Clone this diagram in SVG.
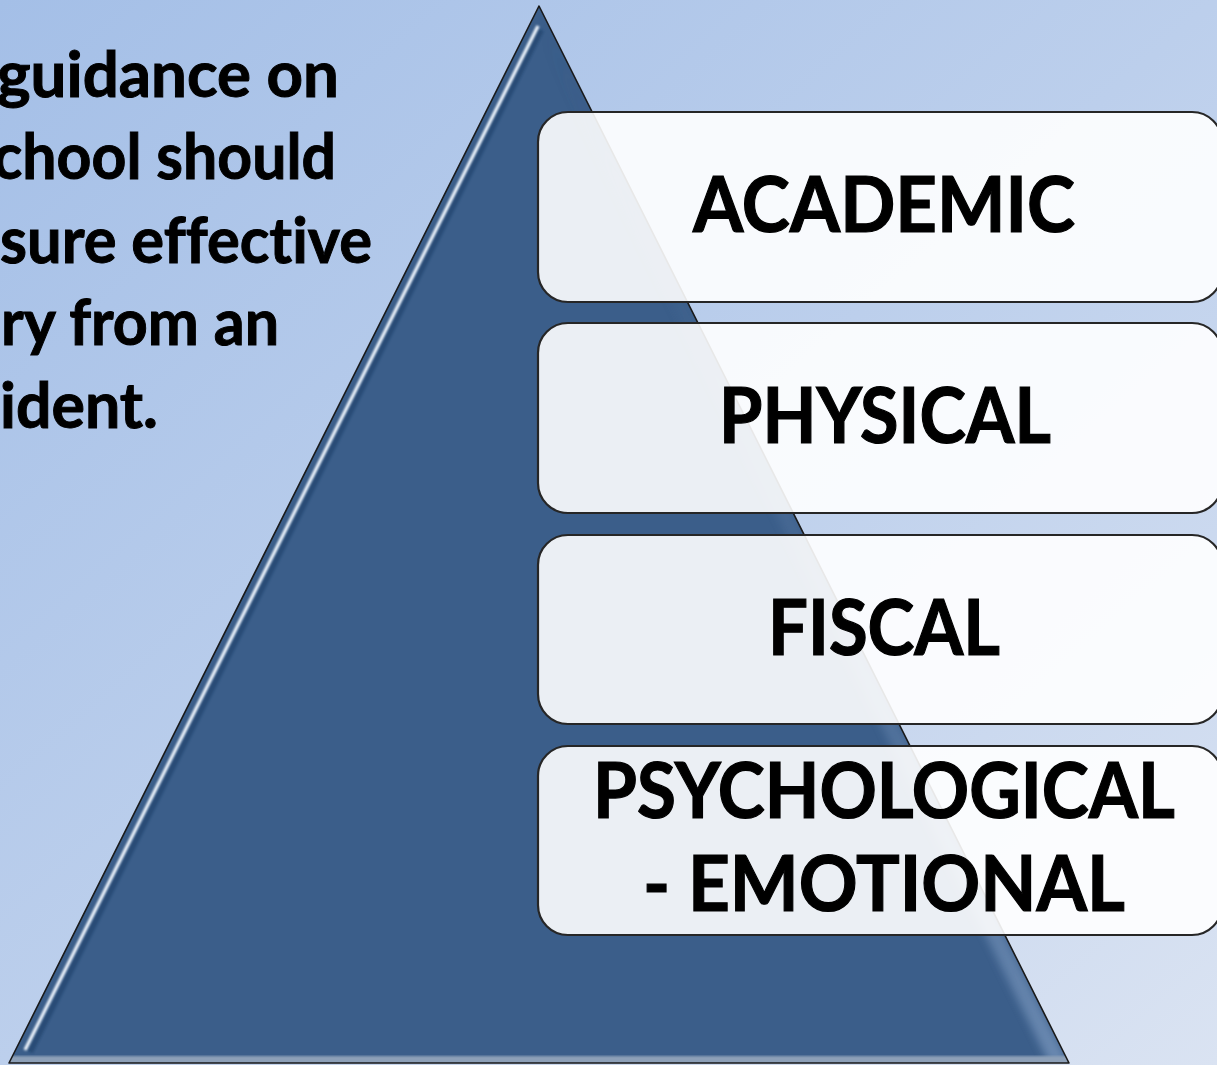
<svg xmlns="http://www.w3.org/2000/svg" width="1217" height="1065" viewBox="0 0 1217 1065">
  <defs>
    <linearGradient id="bg" x1="0" y1="0" x2="1" y2="1">
      <stop offset="0" stop-color="#a4bfe7"/>
      <stop offset="0.5" stop-color="#bccfec"/>
      <stop offset="1" stop-color="#dae3f2"/>
    </linearGradient>
    <linearGradient id="rightShade" x1="0" y1="0" x2="1" y2="0">
      <stop offset="0" stop-color="#3b5e8a" stop-opacity="0"/>
      <stop offset="1" stop-color="#7f9cc2" stop-opacity="0.9"/>
    </linearGradient>
    <clipPath id="triClip">
      <polygon points="539,6 9,1063 1069,1063"/>
    </clipPath>
    <filter id="soft" x="-5%" y="-5%" width="110%" height="110%">
      <feGaussianBlur stdDeviation="1.1"/>
    </filter>
    <filter id="softer" x="-10%" y="-10%" width="120%" height="120%">
      <feGaussianBlur stdDeviation="4"/>
    </filter>
    <style>
      .box { fill: #ffffff; fill-opacity: 0.9; stroke: #262626; stroke-width: 2.2; }
      .label { font-family: Lato, "Liberation Sans", sans-serif; font-weight: 700; font-size: 77px; fill: #000; stroke: #000; stroke-width: 1.2; text-anchor: middle; font-variant-ligatures: none; }
      .side { font-family: Lato, "Liberation Sans", sans-serif; font-weight: 700; font-size: 64px; fill: #000; stroke: #000; stroke-width: 1; font-variant-ligatures: none; }
    </style>
  </defs>

  <!-- backdrop -->
  <rect x="0" y="0" width="1217" height="1065" fill="url(#bg)"/>

  <!-- explanatory text on the left -->
  <g id="intro-text">
    <text class="side" x="-3" y="97" textLength="342" lengthAdjust="spacingAndGlyphs">guidance on</text>
    <text class="side" x="-7" y="179" textLength="343" lengthAdjust="spacingAndGlyphs">chool should</text>
    <text class="side" x="0" y="263" textLength="372" lengthAdjust="spacingAndGlyphs">sure effective</text>
    <text class="side" x="1" y="345" textLength="278" lengthAdjust="spacingAndGlyphs">ry from an</text>
    <text class="side" x="0" y="428" textLength="158" lengthAdjust="spacingAndGlyphs">ident.</text>
  </g>

  <!-- bevelled pyramid -->
  <g id="pyramid">
    <polygon points="539,6 9,1063 1069,1063" fill="#3b5e8a"/>
    <g clip-path="url(#triClip)">
      <!-- soft light band along the right slope -->
      <polygon points="539,6 1069,1063 1049,1063 539,40" fill="url(#rightShade)" filter="url(#softer)" opacity="0.8"/>
      <!-- bevel shadow under the left highlight -->
      <line x1="541" y1="30" x2="30" y2="1052" stroke="#22446e" stroke-width="6" filter="url(#soft)" opacity="0.7"/>
      <!-- bevel highlight along the left slope -->
      <line x1="538" y1="26" x2="25" y2="1050" stroke="#f2f8ff" stroke-width="3.2" filter="url(#soft)"/>
      <!-- lighter base strip -->
      <rect x="0" y="1056" width="1100" height="8" fill="#8da0b8" filter="url(#soft)"/>
    </g>
    <polygon points="539,6 9,1063 1069,1063" fill="none" stroke="#1a1a1a" stroke-width="1.6" stroke-linejoin="round"/>
  </g>

  <!-- tiers -->
  <g id="node-academic">
    <rect class="box" x="538" y="112" width="684" height="190" rx="30" ry="30"/>
    <text class="label" x="884" y="232" textLength="382" lengthAdjust="spacingAndGlyphs">ACADEMIC</text>
  </g>
  <g id="node-physical">
    <rect class="box" x="538" y="323" width="684" height="190" rx="30" ry="30"/>
    <text class="label" x="885" y="443" textLength="332" lengthAdjust="spacingAndGlyphs">PHYSICAL</text>
  </g>
  <g id="node-fiscal">
    <rect class="box" x="538" y="535" width="684" height="189" rx="30" ry="30"/>
    <text class="label" x="884" y="655" textLength="232" lengthAdjust="spacingAndGlyphs">FISCAL</text>
  </g>
  <g id="node-psychological">
    <rect class="box" x="538" y="746" width="684" height="189" rx="30" ry="30"/>
    <text class="label" x="884" y="818" textLength="582" lengthAdjust="spacingAndGlyphs">PSYCHOLOGICAL</text>
    <text class="label" x="884" y="911" textLength="482" lengthAdjust="spacingAndGlyphs">- EMOTIONAL</text>
  </g>
</svg>
